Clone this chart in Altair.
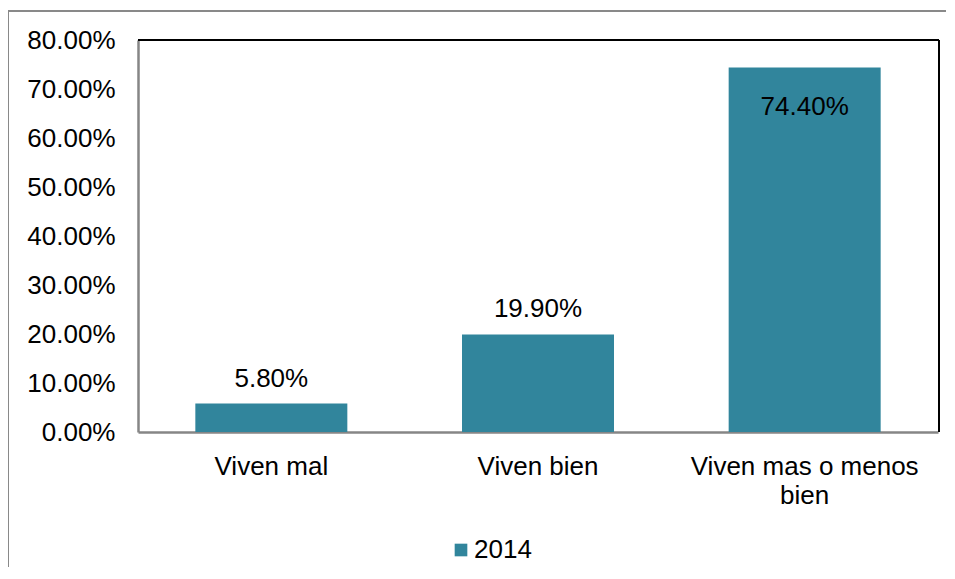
import altair as alt
import pandas as pd

categories = ["Viven mal", "Viven bien", "Viven mas o menos bien"]
values = [0.058, 0.199, 0.744]
series = ["2014", "2014", "2014"]
y_ticks = [0, 0.1, 0.2, 0.3, 0.4, 0.5, 0.6, 0.7, 0.8]

df = pd.DataFrame({"cat": categories, "val": values, "serie": series})

FONT = "Liberation Sans"
BAR = "#31859C"
FS = 26

x_enc = alt.X("cat:N", sort=categories, title=None,
              scale=alt.Scale(paddingInner=0.43, paddingOuter=0.215),
              axis=alt.Axis(labelAngle=0, labelFontSize=FS, labelFont=FONT,
                            labelColor="#000000", labelPadding=21, ticks=False,
                            labelLimit=400,
                            domainColor="#868686", domainWidth=2.5,
                            labelExpr="datum.label == 'Viven mas o menos bien' ? ['Viven mas o menos', 'bien'] : datum.label",
                            labelLineHeight=29))
y_enc = alt.Y("val:Q", title=None,
              scale=alt.Scale(domain=[0, 0.8], nice=False),
              axis=alt.Axis(values=y_ticks, format=".2%", labelFontSize=FS,
                            labelFont=FONT, labelColor="#000000", ticks=False,
                            labelPadding=23, grid=False, domainColor="#868686",
                            domainWidth=2.5))

base = alt.Chart(df)

bars = base.mark_bar(color=BAR, size=152).encode(
    x=x_enc, y=y_enc,
    color=alt.Color("serie:N", scale=alt.Scale(range=[BAR]),
                    legend=alt.Legend(title=None, orient="none", legendX=310,
                                      legendY=497, symbolType="square",
                                      symbolSize=160, labelFontSize=FS,
                                      labelFont=FONT, labelColor="#000000",
                                      labelOffset=0, symbolStrokeWidth=0)),
)

labels_out = base.transform_filter("datum.val < 0.7").mark_text(
    font=FONT, fontSize=FS, color="#000000", baseline="alphabetic", dy=-17
).encode(x=alt.X("cat:N", sort=categories), y="val:Q",
         text=alt.Text("val:Q", format=".2%"))

labels_in = base.transform_filter("datum.val >= 0.7").mark_text(
    font=FONT, fontSize=FS, color="#000000", baseline="alphabetic", dy=48
).encode(x=alt.X("cat:N", sort=categories), y="val:Q",
         text=alt.Text("val:Q", format=".2%"))

frame_top = base.mark_rule(color="#000000", strokeWidth=2).encode(
    x=alt.value(0), x2=alt.value(801), y=alt.value(0))
frame_right = base.mark_rule(color="#000000", strokeWidth=2).encode(
    x=alt.value(801), y=alt.value(0), y2=alt.value(392))

outer_left = base.mark_rule(color="#898989", strokeWidth=2).encode(
    x=alt.value(-130), y=alt.value(-29), y2=alt.value(530))
outer_top = base.mark_rule(color="#898989", strokeWidth=2).encode(
    x=alt.value(-130), x2=alt.value(809), y=alt.value(-29))

chart = alt.layer(bars, labels_out, labels_in, frame_top, frame_right,
                  outer_left, outer_top).properties(
    width=800, height=392,
    autosize=alt.AutoSizeParams(type="none"),
    padding={"left": 130, "top": 32, "right": 8, "bottom": 135},
).configure_view(stroke=None)

chart.save("out.html", embed_options={"renderer": "svg", "actions": False})
